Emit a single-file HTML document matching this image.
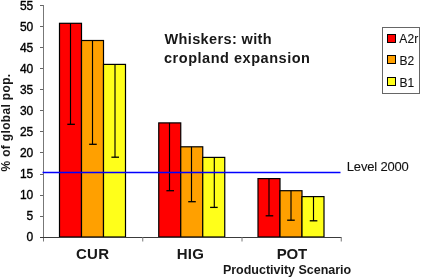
<!DOCTYPE html>
<html><head><meta charset="utf-8"><style>
html,body{margin:0;padding:0;background:#fff;overflow:hidden;}
svg{display:block;will-change:transform;}
text{font-family:"Liberation Sans",sans-serif;fill:#000;}
text[font-weight="bold"]{fill:#181818;}
.r{stroke:#000;stroke-width:0.35px;}
.r2{fill:#111;stroke:#111;stroke-width:0.1px;}
</style></head><body>
<svg width="421" height="278" viewBox="0 0 421 278">
<rect width="421" height="278" fill="#fff"/>
<line x1="40" y1="237.50" x2="43.5" y2="237.50" stroke="#666" stroke-width="1"/>
<text x="33.3" y="240.80" text-anchor="end" font-size="12" class="r">0</text>
<line x1="40" y1="216.50" x2="43.5" y2="216.50" stroke="#666" stroke-width="1"/>
<text x="33.3" y="219.78" text-anchor="end" font-size="12" class="r">5</text>
<line x1="40" y1="195.50" x2="43.5" y2="195.50" stroke="#666" stroke-width="1"/>
<text x="33.3" y="198.76" text-anchor="end" font-size="12" class="r">10</text>
<line x1="40" y1="174.50" x2="43.5" y2="174.50" stroke="#666" stroke-width="1"/>
<text x="33.3" y="177.74" text-anchor="end" font-size="12" class="r">15</text>
<line x1="40" y1="152.50" x2="43.5" y2="152.50" stroke="#666" stroke-width="1"/>
<text x="33.3" y="156.72" text-anchor="end" font-size="12" class="r">20</text>
<line x1="40" y1="131.50" x2="43.5" y2="131.50" stroke="#666" stroke-width="1"/>
<text x="33.3" y="135.70" text-anchor="end" font-size="12" class="r">25</text>
<line x1="40" y1="110.50" x2="43.5" y2="110.50" stroke="#666" stroke-width="1"/>
<text x="33.3" y="114.68" text-anchor="end" font-size="12" class="r">30</text>
<line x1="40" y1="89.50" x2="43.5" y2="89.50" stroke="#666" stroke-width="1"/>
<text x="33.3" y="93.66" text-anchor="end" font-size="12" class="r">35</text>
<line x1="40" y1="68.50" x2="43.5" y2="68.50" stroke="#666" stroke-width="1"/>
<text x="33.3" y="72.64" text-anchor="end" font-size="12" class="r">40</text>
<line x1="40" y1="47.50" x2="43.5" y2="47.50" stroke="#666" stroke-width="1"/>
<text x="33.3" y="51.62" text-anchor="end" font-size="12" class="r">45</text>
<line x1="40" y1="26.50" x2="43.5" y2="26.50" stroke="#666" stroke-width="1"/>
<text x="33.3" y="30.60" text-anchor="end" font-size="12" class="r">50</text>
<line x1="40" y1="5.50" x2="43.5" y2="5.50" stroke="#666" stroke-width="1"/>
<text x="33.3" y="9.58" text-anchor="end" font-size="12" class="r">55</text>
<rect x="59.50" y="23.30" width="22.0" height="213.70" fill="#ff0000" stroke="#000" stroke-width="1.2"/>
<rect x="81.50" y="40.50" width="22.0" height="196.50" fill="#ffa000" stroke="#000" stroke-width="1.2"/>
<rect x="103.50" y="64.40" width="22.0" height="172.60" fill="#ffff1a" stroke="#000" stroke-width="1.2"/>
<rect x="158.75" y="122.90" width="22.0" height="114.10" fill="#ff0000" stroke="#000" stroke-width="1.2"/>
<rect x="180.75" y="146.80" width="22.0" height="90.20" fill="#ffa000" stroke="#000" stroke-width="1.2"/>
<rect x="202.75" y="157.40" width="22.0" height="79.60" fill="#ffff1a" stroke="#000" stroke-width="1.2"/>
<rect x="258.00" y="178.60" width="22.0" height="58.40" fill="#ff0000" stroke="#000" stroke-width="1.2"/>
<rect x="280.00" y="190.70" width="22.0" height="46.30" fill="#ffa000" stroke="#000" stroke-width="1.2"/>
<rect x="302.00" y="196.60" width="22.0" height="40.40" fill="#ffff1a" stroke="#000" stroke-width="1.2"/>
<line x1="70.50" y1="23.30" x2="70.50" y2="124.30" stroke="#000" stroke-width="1.15"/>
<line x1="67.30" y1="124.30" x2="74.90" y2="124.30" stroke="#000" stroke-width="1.3"/>
<line x1="92.50" y1="40.50" x2="92.50" y2="144.30" stroke="#000" stroke-width="1.15"/>
<line x1="89.15" y1="144.30" x2="96.75" y2="144.30" stroke="#000" stroke-width="1.3"/>
<line x1="115.00" y1="64.40" x2="115.00" y2="157.20" stroke="#000" stroke-width="1.15"/>
<line x1="111.40" y1="157.20" x2="119.00" y2="157.20" stroke="#000" stroke-width="1.3"/>
<line x1="169.50" y1="122.90" x2="169.50" y2="190.70" stroke="#000" stroke-width="1.15"/>
<line x1="166.40" y1="190.70" x2="174.00" y2="190.70" stroke="#000" stroke-width="1.3"/>
<line x1="191.50" y1="146.80" x2="191.50" y2="201.70" stroke="#000" stroke-width="1.15"/>
<line x1="188.20" y1="201.70" x2="195.80" y2="201.70" stroke="#000" stroke-width="1.3"/>
<line x1="214.30" y1="157.40" x2="214.30" y2="207.40" stroke="#000" stroke-width="1.15"/>
<line x1="210.10" y1="207.40" x2="217.70" y2="207.40" stroke="#000" stroke-width="1.3"/>
<line x1="269.00" y1="178.60" x2="269.00" y2="215.80" stroke="#000" stroke-width="1.15"/>
<line x1="265.65" y1="215.80" x2="273.25" y2="215.80" stroke="#000" stroke-width="1.3"/>
<line x1="291.00" y1="190.70" x2="291.00" y2="220.20" stroke="#000" stroke-width="1.15"/>
<line x1="287.15" y1="220.20" x2="294.75" y2="220.20" stroke="#000" stroke-width="1.3"/>
<line x1="313.50" y1="196.60" x2="313.50" y2="220.80" stroke="#000" stroke-width="1.15"/>
<line x1="309.75" y1="220.80" x2="317.35" y2="220.80" stroke="#000" stroke-width="1.3"/>
<line x1="43.5" y1="5" x2="43.5" y2="241.5" stroke="#777" stroke-width="1"/>
<line x1="40" y1="237.5" x2="341.25" y2="237.5" stroke="#3a3a3a" stroke-width="1.1"/>
<line x1="142.75" y1="237" x2="142.75" y2="241.5" stroke="#777" stroke-width="1"/>
<line x1="242.0" y1="237" x2="242.0" y2="241.5" stroke="#777" stroke-width="1"/>
<line x1="341.25" y1="237" x2="341.25" y2="241.5" stroke="#777" stroke-width="1"/>
<line x1="42.6" y1="172.5" x2="340.5" y2="172.5" stroke="#0000ff" stroke-width="1.3"/>
<rect x="382.5" y="27.5" width="37" height="66" fill="#fff" stroke="#666" stroke-width="1"/>
<rect x="387.5" y="34.5" width="8" height="8" fill="#ff0000" stroke="#000" stroke-width="1"/>
<rect x="387.5" y="55.5" width="8" height="8" fill="#ffa000" stroke="#000" stroke-width="1"/>
<rect x="387.5" y="77.5" width="8" height="8" fill="#ffff1a" stroke="#000" stroke-width="1"/>
<text x="164.5" y="44.0" font-size="14.5" font-weight="bold" textLength="107.13" lengthAdjust="spacing">Whiskers: with</text>
<text x="164.0" y="63" font-size="14.5" font-weight="bold" textLength="145.98" lengthAdjust="spacing">cropland expansion</text>
<text x="75.9" y="258.8" font-size="15" font-weight="bold" textLength="33.2" lengthAdjust="spacing">CUR</text>
<text x="176.7" y="258.9" font-size="15" font-weight="bold" textLength="27.27" lengthAdjust="spacing">HIG</text>
<text x="276.8" y="258.6" font-size="15" font-weight="bold" textLength="30.44" lengthAdjust="spacing">POT</text>
<text x="222.9" y="274.0" font-size="12.5" font-weight="bold" textLength="128.32" lengthAdjust="spacing">Productivity Scenario</text>
<text x="346.8" y="171" font-size="13" class="r2" textLength="62.02" lengthAdjust="spacing">Level 2000</text>
<text x="399.3" y="43" font-size="12" class="r2" textLength="18.89" lengthAdjust="spacing">A2r</text>
<text x="399.4" y="65" font-size="12" class="r2">B2</text>
<text x="399.4" y="87" font-size="12" class="r2">B1</text>
<text transform="translate(9.8,122.7) rotate(-90)" text-anchor="middle" font-size="12" font-weight="bold" textLength="97.7" lengthAdjust="spacing">% of global pop.</text>
</svg>
</body></html>
